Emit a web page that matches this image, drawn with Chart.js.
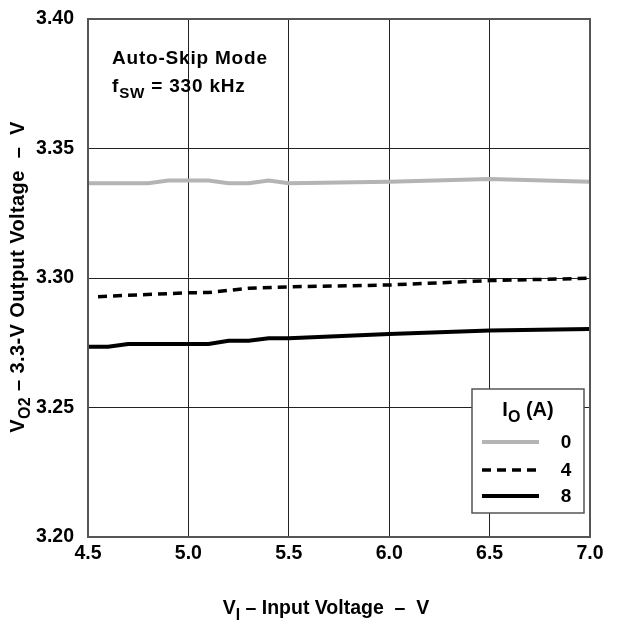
<!DOCTYPE html>
<html>
<head>
<meta charset="utf-8">
<script src="https://cdn.jsdelivr.net/npm/chart.js@4"></script>
<style>
  html, body { margin: 0; padding: 0; background: #fff; }
  #wrap { width: 623px; height: 623px; }
</style>
</head>
<body>
<div id="wrap"><canvas id="graphique" width="623" height="623"></canvas></div>
<script>
// Données
const vin0 = [4.5, 4.6, 4.7, 4.8, 4.9, 5.0, 5.1, 5.2, 5.3, 5.4, 5.5, 6.0, 6.5, 7.0];
const vout0 = [3.3366, 3.3366, 3.3366, 3.3366, 3.3376, 3.3376, 3.3376, 3.3366, 3.3366, 3.3376, 3.3366, 3.3372, 3.3382, 3.3372];

const vin4 = [4.55, 5.0, 5.1, 5.3, 5.5, 6.0, 6.5, 7.0];
const vout4 = [3.2928, 3.2943, 3.2944, 3.2960, 3.2966, 3.2973, 3.2990, 3.2999];

const vin8 = [4.5, 4.6, 4.7, 5.1, 5.2, 5.3, 5.4, 5.5, 6.0, 6.5, 7.0];
const vout8 = [3.2735, 3.2735, 3.2745, 3.2745, 3.2758, 3.2758, 3.2767, 3.2767, 3.2784, 3.2797, 3.2803];

const courants = ['0', '4', '8'];
const ticksX = [4.5, 5.0, 5.5, 6.0, 6.5, 7.0];
const ticksY = [3.20, 3.25, 3.30, 3.35, 3.40];

const POLICE = '"Liberation Sans", Arial, sans-serif';

function points(xs, ys) {
    return xs.map((x, i) => ({ x: x, y: ys[i] }));
}

// texte avec indice (ex. V + O2)
function texteIndice(ctx, morceaux, x, y, taille) {
    let pos = x;
    morceaux.forEach(m => {
        const t = m.sub ? taille * 0.8 : taille;
        ctx.font = 'bold ' + t + 'px ' + POLICE;
        ctx.fillText(m.t, pos, y + (m.sub ? taille * 0.3 : 0));
        pos += ctx.measureText(m.t).width;
    });
    return pos - x;
}
function largeurIndice(ctx, morceaux, taille) {
    let w = 0;
    morceaux.forEach(m => {
        ctx.font = 'bold ' + (m.sub ? taille * 0.8 : taille) + 'px ' + POLICE;
        w += ctx.measureText(m.t).width;
    });
    return w;
}

const decor = {
    id: 'decor',
    afterDraw(chart) {
        const ctx = chart.ctx;
        ctx.save();
        ctx.fillStyle = '#000';
        ctx.textBaseline = 'alphabetic';
        ctx.textAlign = 'left';

        // annotation
        ctx.letterSpacing = '0.8px';
        texteIndice(ctx, [{ t: 'Auto-Skip Mode' }], 112, 64, 19);
        texteIndice(ctx, [{ t: 'f' }, { t: 'SW', sub: true }, { t: ' = 330 kHz' }], 112, 92, 19);
        ctx.letterSpacing = '0px';

        // titre axe X
        const mx = [{ t: 'V' }, { t: 'I', sub: true }, { t: ' \u2013 Input Voltage  \u2013  V' }];
        const wx = largeurIndice(ctx, mx, 19.5);
        texteIndice(ctx, mx, 326 - wx / 2, 614, 19.5);

        // titre axe Y
        const my = [{ t: 'V' }, { t: 'O2', sub: true }, { t: ' \u2013 3.3-V Output Voltage  \u2013  V' }];
        ctx.letterSpacing = '0.4px';
        const wy = largeurIndice(ctx, my, 20);
        ctx.save();
        ctx.translate(24, 277);
        ctx.rotate(-Math.PI / 2);
        texteIndice(ctx, my, -wy / 2, 0, 20);
        ctx.restore();
        ctx.letterSpacing = '0px';

        // légende
        const bx = 472, by = 389, bw = 112, bh = 124;
        ctx.fillStyle = '#fff';
        ctx.fillRect(bx, by, bw, bh);
        ctx.strokeStyle = '#555';
        ctx.lineWidth = 1.5;
        ctx.strokeRect(bx, by, bw, bh);
        ctx.fillStyle = '#000';
        const mt = [{ t: 'I' }, { t: 'O', sub: true }, { t: ' (A)' }];
        const wt = largeurIndice(ctx, mt, 20);
        texteIndice(ctx, mt, 528 - wt / 2, 416, 20);
        const ys = [442, 470, 496];
        chart.data.datasets.forEach((ds, i) => {
            ctx.beginPath();
            ctx.strokeStyle = ds.borderColor;
            ctx.lineWidth = ds.borderWidth;
            ctx.setLineDash(ds.borderDash || []);
            ctx.moveTo(482, ys[i]);
            ctx.lineTo(539, ys[i]);
            ctx.stroke();
            ctx.setLineDash([]);
            ctx.font = 'bold 19px ' + POLICE;
            ctx.textAlign = 'center';
            ctx.textBaseline = 'middle';
            ctx.fillText(courants[i], 566, ys[i] + 1);
            ctx.textAlign = 'left';
            ctx.textBaseline = 'alphabetic';
        });
        ctx.restore();
    }
};

new Chart(document.getElementById('graphique'), {
    type: 'line',
    data: {
        datasets: [
            { label: courants[0], data: points(vin0, vout0), borderColor: '#b4b4b4', borderWidth: 4, pointRadius: 0, tension: 0 },
            { label: courants[1], data: points(vin4, vout4), borderColor: '#000', borderWidth: 3.5, borderDash: [9, 6], pointRadius: 0, tension: 0 },
            { label: courants[2], data: points(vin8, vout8), borderColor: '#000', borderWidth: 4, pointRadius: 0, tension: 0 }
        ]
    },
    options: {
        responsive: false,
        animation: false,
        layout: { padding: { left: 0, top: 19, right: 33, bottom: 0 } },
        plugins: { legend: { display: false }, tooltip: { enabled: false } },
        scales: {
            x: {
                type: 'linear', min: 4.5, max: 7.0,
                afterBuildTicks: s => { s.ticks = ticksX.map(v => ({ value: v })); },
                afterFit: s => { s.height = 86; s.paddingLeft = 0; s.paddingRight = 0; },
                grid: { color: '#222', lineWidth: 1, drawTicks: false },
                border: { color: '#555', width: 2 },
                ticks: {
                    padding: 5, color: '#000',
                    font: { family: POLICE, size: 19.5, weight: 'bold' },
                    callback: v => v.toFixed(1)
                }
            },
            y: {
                type: 'linear', min: 3.20, max: 3.40,
                afterBuildTicks: s => { s.ticks = ticksY.map(v => ({ value: v })); },
                afterFit: s => { s.width = 88; s.paddingTop = 0; s.paddingBottom = 0; },
                grid: { color: '#222', lineWidth: 1, drawTicks: false },
                border: { color: '#555', width: 2 },
                ticks: {
                    padding: 14, color: '#000',
                    font: { family: POLICE, size: 19.5, weight: 'bold' },
                    callback: v => v.toFixed(2)
                }
            }
        }
    },
    plugins: [decor, {
        id: 'cadre',
        afterDatasetsDraw(chart) {
            const a = chart.chartArea, ctx = chart.ctx;
            ctx.save();
            ctx.strokeStyle = '#555';
            ctx.lineWidth = 2;
            ctx.strokeRect(a.left, a.top, a.right - a.left, a.bottom - a.top);
            ctx.restore();
        }
    }]
});
</script>
</body>
</html>
